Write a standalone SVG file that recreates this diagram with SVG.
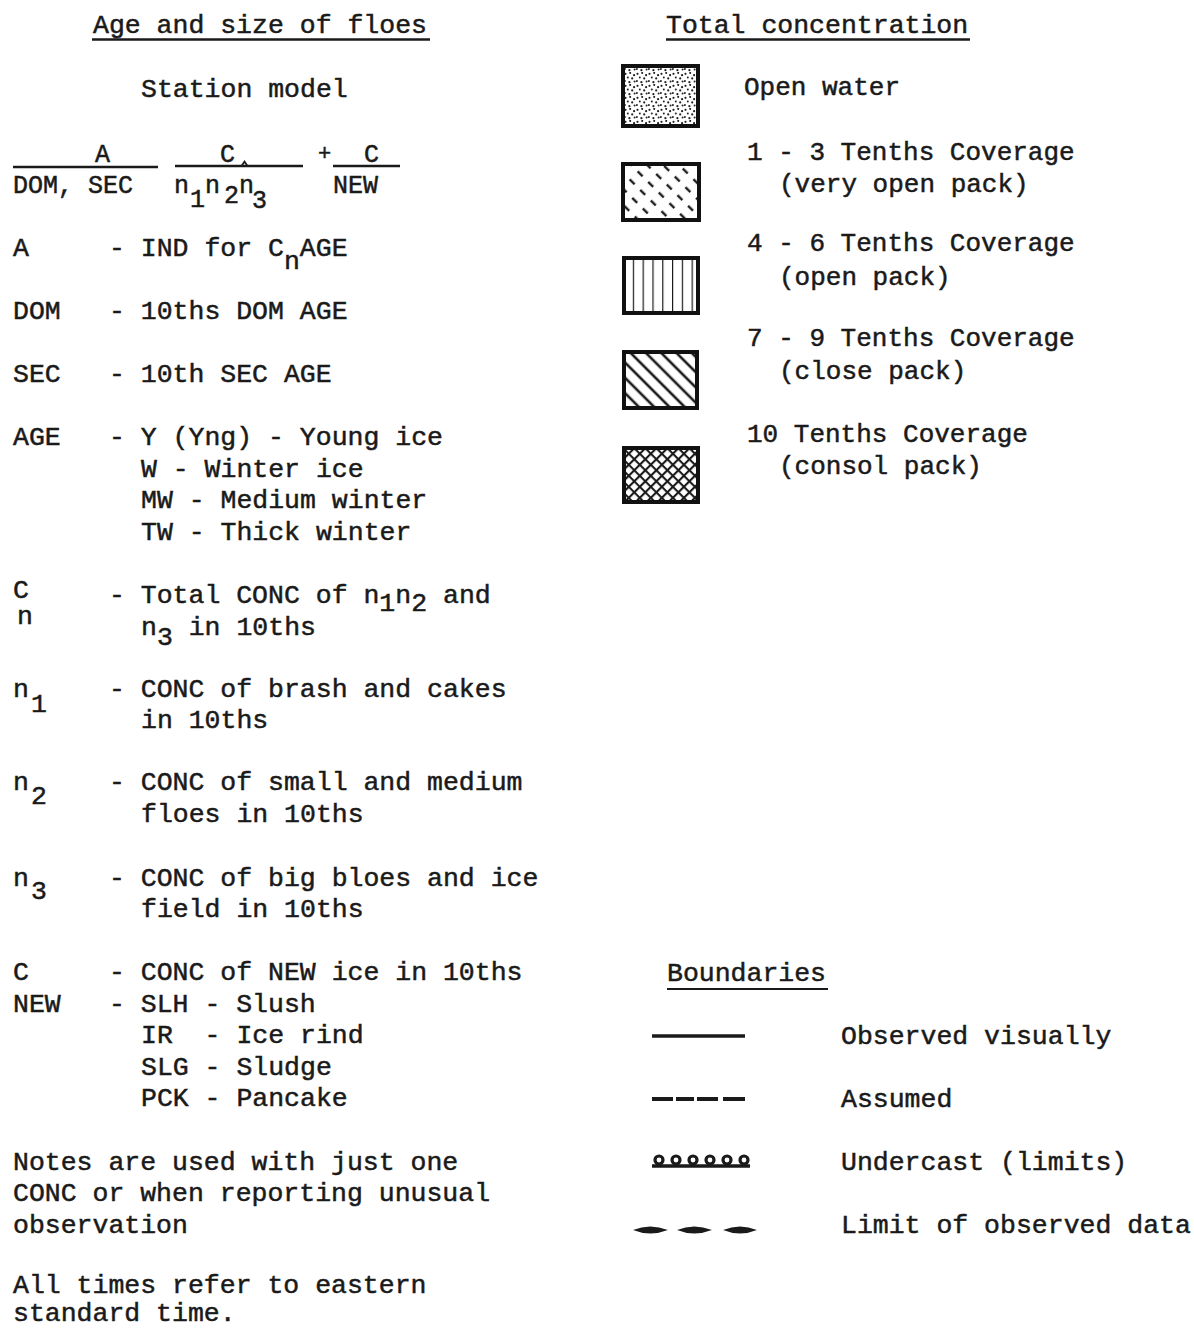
<svg xmlns="http://www.w3.org/2000/svg" width="1194" height="1328" viewBox="0 0 1194 1328">
  <style>
    .t { font-family: "Liberation Mono", "DejaVu Sans Mono", monospace; font-size: 26.5px; fill: #1a1a1a; stroke: #1a1a1a; stroke-width: 0.5px; white-space: pre; }
    .r { font-size: 26px; }
    .f { font-size: 25px; }
    .ln { stroke: #1a1a1a; fill: none; }
    .box { stroke: #111; stroke-width: 4; }
  </style>
  <defs>
    <!-- open water: dense stipple -->
    <pattern id="stipple" width="12" height="12" patternUnits="userSpaceOnUse">
      <g fill="#222">
        <circle cx="1.5" cy="1.8" r="1.1"/>
        <circle cx="6.2" cy="0.9" r="1"/>
        <circle cx="10.1" cy="3.2" r="1.1"/>
        <circle cx="3.8" cy="5.6" r="1"/>
        <circle cx="8.2" cy="6.4" r="1.1"/>
        <circle cx="0.9" cy="9.1" r="1"/>
        <circle cx="5.4" cy="10.2" r="1.1"/>
        <circle cx="10.6" cy="9.4" r="1"/>
      </g>
    </pattern>
    <!-- very open pack: short broken diagonals -->
    <pattern id="brokenDiag" width="11.3" height="15" patternUnits="userSpaceOnUse" patternTransform="rotate(-45)">
      <line x1="2" y1="2" x2="2" y2="9" stroke="#1a1a1a" stroke-width="2.4"/>
    </pattern>
    <!-- open pack: vertical lines -->
    <pattern id="vert" width="9.8" height="10" patternUnits="userSpaceOnUse" x="623">
      <line x1="0" y1="0" x2="0" y2="10" stroke="#1a1a1a" stroke-width="2.4"/>
    </pattern>
    <!-- close pack: diagonal lines -->
    <pattern id="diag" width="10.8" height="10" patternUnits="userSpaceOnUse" patternTransform="rotate(-45)">
      <line x1="2" y1="0" x2="2" y2="10" stroke="#1a1a1a" stroke-width="2.6"/>
    </pattern>
    <!-- consolidated pack: cross-hatch -->
    <pattern id="cross" width="7.8" height="7.8" patternUnits="userSpaceOnUse" patternTransform="rotate(45)">
      <line x1="1" y1="0" x2="1" y2="7.8" stroke="#1a1a1a" stroke-width="2.2"/>
      <line x1="0" y1="1" x2="7.8" y2="1" stroke="#1a1a1a" stroke-width="2.2"/>
    </pattern>
  </defs>

  <rect width="1194" height="1328" fill="#fff"/>

  <!-- Left column: age and size of floes -->
  <g id="age-size-heading">
    <text class="t" x="93" y="33">Age and size of floes</text>
    <line class="ln" x1="92" y1="39.5" x2="430" y2="39.5" stroke-width="2.5"/>
    <text class="t" x="141" y="97">Station model</text>
  </g>

  <g id="station-model">
    <text class="t f" x="95" y="162">A</text>
    <line class="ln" x1="13" y1="167" x2="158" y2="167" stroke-width="2.5"/>
    <text class="t f" x="13" y="193">DOM, SEC</text>
    <text class="t f" x="220" y="162">C</text>
    <line class="ln" x1="175" y1="166" x2="303" y2="166" stroke-width="2.5"/>
    <text class="t f" x="174" y="193">n</text>
    <text class="t f" x="190" y="207">1</text>
    <text class="t f" x="205" y="193">n</text>
    <text class="t f" x="224" y="203">2</text>
    <text class="t f" x="239" y="193">n</text>
    <path class="ln" d="M241.5,166 L244.5,161.5 L247.5,166" stroke-width="1.8"/>
    <text class="t f" x="252" y="208">3</text>
    <text class="t" x="318" y="160" style="font-size:22px">+</text>
    <text class="t f" x="364" y="162">C</text>
    <line class="ln" x1="333" y1="166" x2="400" y2="166" stroke-width="2.5"/>
    <text class="t f" x="333" y="193">NEW</text>
  </g>

  <g id="key-A">
    <text class="t" x="13" y="256">A</text>
    <text class="t" x="109" y="256">- IND for C<tspan dy="13">n</tspan><tspan dy="-13">AGE</tspan></text>
  </g>
  <g id="key-DOM">
    <text class="t" x="13" y="319">DOM</text>
    <text class="t" x="109" y="319">- 10ths DOM AGE</text>
  </g>
  <g id="key-SEC">
    <text class="t" x="13" y="382">SEC</text>
    <text class="t" x="109" y="382">- 10th SEC AGE</text>
  </g>
  <g id="key-AGE">
    <text class="t" x="13" y="445">AGE</text>
    <text class="t" x="109" y="445">- Y (Yng) - Young ice</text>
    <text class="t" x="141" y="476.5">W - Winter ice</text>
    <text class="t" x="141" y="508">MW - Medium winter</text>
    <text class="t" x="141" y="539.5">TW - Thick winter</text>
  </g>
  <g id="key-Cn">
    <text class="t" x="13" y="598">C</text>
    <text class="t" x="17" y="624">n</text>
    <text class="t" x="109" y="603">- Total CONC of n<tspan dy="8">1</tspan><tspan dy="-8">n</tspan><tspan dy="8">2</tspan><tspan dy="-8"> and</tspan></text>
    <text class="t" x="141" y="635">n<tspan dy="10">3</tspan><tspan dy="-10"> in 10ths</tspan></text>
  </g>
  <g id="key-n1">
    <text class="t" x="13" y="697">n</text>
    <text class="t" x="31" y="712">1</text>
    <text class="t" x="109" y="697">- CONC of brash and cakes</text>
    <text class="t" x="141" y="728">in 10ths</text>
  </g>
  <g id="key-n2">
    <text class="t" x="13" y="790">n</text>
    <text class="t" x="31" y="804">2</text>
    <text class="t" x="109" y="790">- CONC of small and medium</text>
    <text class="t" x="141" y="822">floes in 10ths</text>
  </g>
  <g id="key-n3">
    <text class="t" x="13" y="886">n</text>
    <text class="t" x="31" y="899">3</text>
    <text class="t" x="109" y="886">- CONC of big bloes and ice</text>
    <text class="t" x="141" y="917">field in 10ths</text>
  </g>
  <g id="key-C-NEW">
    <text class="t" x="13" y="980">C</text>
    <text class="t" x="109" y="980">- CONC of NEW ice in 10ths</text>
    <text class="t" x="13" y="1012">NEW</text>
    <text class="t" x="109" y="1012">- SLH - Slush</text>
    <text class="t" x="141" y="1043">IR  - Ice rind</text>
    <text class="t" x="141" y="1075">SLG - Sludge</text>
    <text class="t" x="141" y="1106">PCK - Pancake</text>
  </g>
  <g id="notes">
    <text class="t" x="13" y="1170">Notes are used with just one</text>
    <text class="t" x="13" y="1201">CONC or when reporting unusual</text>
    <text class="t" x="13" y="1233">observation</text>
    <text class="t" x="13" y="1293">All times refer to eastern</text>
    <text class="t" x="13" y="1321">standard time.</text>
  </g>

  <!-- Right column: total concentration -->
  <g id="concentration-heading">
    <text class="t" x="666" y="33">Total concentration</text>
    <line class="ln" x1="666" y1="39.5" x2="970" y2="39.5" stroke-width="2.5"/>
  </g>
  <g id="open-water">
    <rect class="box" x="623" y="66" width="75" height="60" fill="url(#stipple)"/>
    <text class="t r" x="744" y="95">Open water</text>
  </g>
  <g id="tenths-1-3">
    <rect class="box" x="623" y="164" width="76" height="56" fill="url(#brokenDiag)"/>
    <text class="t r" x="747" y="160">1 - 3 Tenths Coverage</text>
    <text class="t r" x="779" y="192">(very open pack)</text>
  </g>
  <g id="tenths-4-6">
    <rect class="box" x="624" y="258" width="74" height="55" fill="url(#vert)"/>
    <text class="t r" x="747" y="251">4 - 6 Tenths Coverage</text>
    <text class="t r" x="779" y="285">(open pack)</text>
  </g>
  <g id="tenths-7-9">
    <rect class="box" x="624" y="352" width="73" height="56" fill="url(#diag)"/>
    <text class="t r" x="747" y="346">7 - 9 Tenths Coverage</text>
    <text class="t r" x="779" y="379">(close pack)</text>
  </g>
  <g id="tenths-10">
    <rect class="box" x="624" y="448" width="74" height="54" fill="url(#cross)"/>
    <text class="t r" x="747" y="442">10 Tenths Coverage</text>
    <text class="t r" x="779" y="474">(consol pack)</text>
  </g>

  <!-- Boundaries -->
  <g id="boundaries-heading">
    <text class="t" x="667" y="981">Boundaries</text>
    <line class="ln" x1="667" y1="989" x2="828" y2="989" stroke-width="2"/>
  </g>
  <g id="connectors">
    <!-- observed visually -->
    <line class="ln" x1="652" y1="1036" x2="745" y2="1036" stroke-width="3.5"/>
    <!-- assumed -->
    <path class="ln" d="M652,1099H673M676,1099H694M697,1099H718M723,1099H745" stroke-width="4"/>
    <!-- undercast (limits) -->
    <g class="ln" stroke-width="3.2">
      <line x1="652" y1="1166" x2="750" y2="1166" stroke-width="3.5"/>
      <circle cx="659" cy="1160" r="4"/>
      <circle cx="676" cy="1160" r="4"/>
      <circle cx="693" cy="1160" r="4"/>
      <circle cx="710" cy="1160" r="4"/>
      <circle cx="727" cy="1160" r="4"/>
      <circle cx="744" cy="1160" r="4"/>
    </g>
    <!-- limit of observed data -->
    <path fill="#1a1a1a" d="M633,1230 Q650,1223 668,1230 Q650,1237 633,1230Z M677,1230 Q694,1223 712,1230 Q694,1237 677,1230Z M723,1230 Q740,1223 757,1230 Q740,1237 723,1230Z"/>
  </g>
  <g id="boundary-labels">
    <text class="t" x="841" y="1044">Observed visually</text>
    <text class="t" x="841" y="1107">Assumed</text>
    <text class="t" x="841" y="1170">Undercast (limits)</text>
    <text class="t" x="841" y="1233">Limit of observed data</text>
  </g>
</svg>
